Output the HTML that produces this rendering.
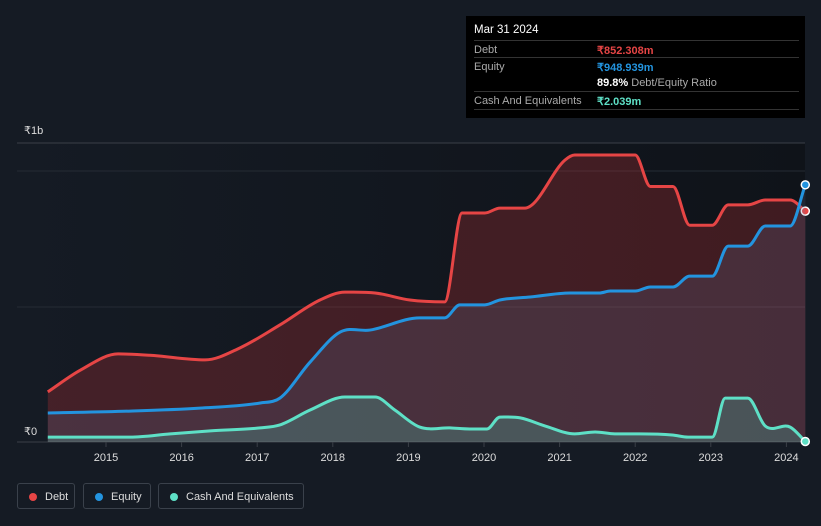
<!DOCTYPE html>
<html><head><meta charset="utf-8"><style>
html,body{margin:0;padding:0;background:#151b24;}
body{width:821px;height:526px;overflow:hidden;font-family:"Liberation Sans",sans-serif;position:relative;}
svg{position:absolute;left:0;top:0;}
.tt{position:absolute;left:466px;top:16px;width:339px;height:102px;background:#000;color:#ddd;font-size:11px;}
.tt .row{position:absolute;left:8px;right:6px;height:17px;border-top:1px solid #333;}
.tt .lab{position:absolute;left:0;top:3px;color:#aaa;}
.tt .val{position:absolute;left:123px;top:3px;font-weight:bold;}
.leg{position:absolute;top:483px;height:26px;border:1px solid #3a414b;border-radius:3px;color:#ddd;font-size:11px;line-height:26px;box-sizing:border-box;}
.leg i{position:absolute;left:11px;top:9px;width:8px;height:8px;border-radius:50%;}
.leg span{position:absolute;left:27px;}
</style></head><body>
<svg id="chart" width="821" height="526"><defs><linearGradient id="bgg" x1="0" x2="1" y1="0" y2="0"><stop offset="0" stop-color="#151b24"/><stop offset="0.5" stop-color="#12171f"/><stop offset="1" stop-color="#0f1319"/></linearGradient></defs></svg>
<div class="tt">
 <div style="position:absolute;left:8px;top:8px;color:#fff;font-size:11.5px">Mar 31 2024</div>
 <div class="row" style="top:24px"><span class="lab">Debt</span><span class="val" style="color:#e64545">₹852.308m</span></div>
 <div class="row" style="top:41px"><span class="lab">Equity</span><span class="val" style="color:#2394df">₹948.939m</span></div>
 <div class="row" style="top:58px;border-top:none"><span class="val" style="color:#fff">89.8% <span style="color:#aaa;font-weight:normal">Debt/Equity Ratio</span></span></div>
 <div class="row" style="top:75px"><span class="lab">Cash And Equivalents</span><span class="val" style="color:#5ee0c6">₹2.039m</span></div>
 <div class="row" style="top:93px;height:0"></div>
</div>
<div class="leg" style="left:17px;width:58px"><i style="background:#e64545"></i><span>Debt</span></div>
<div class="leg" style="left:83px;width:68px"><i style="background:#2394df"></i><span>Equity</span></div>
<div class="leg" style="left:158px;width:146px"><i style="background:#5ee0c6"></i><span>Cash And Equivalents</span></div>
<script>
const debtX=[2014.23,2014.66,2015.16,2015.58,2016.31,2016.77,2017.30,2017.83,2018.16,2018.56,2019.02,2019.48,2019.71,2020.01,2020.21,2020.54,2021.07,2021.20,2022.00,2022.20,2022.50,2022.72,2023.02,2023.23,2023.49,2023.72,2024.05,2024.25];
const debtY=[185,265,325,320,303,347,432,524,553,550,524,517,845,845,863,863,1040,1059,1059,943,943,800,800,875,875,893,893,852];
const eqX=[2014.23,2015.32,2016.24,2017.04,2017.30,2017.70,2018.10,2018.49,2019.15,2019.48,2019.68,2020.01,2020.21,2020.61,2021.14,2021.53,2021.67,2022.00,2022.20,2022.50,2022.72,2023.02,2023.23,2023.49,2023.72,2024.05,2024.25];
const eqY=[107,114,125,144,162,295,406,413,458,458,506,506,524,535,550,550,557,557,572,572,612,612,723,723,797,797,949];
const cashX=[2014.23,2015.32,2015.85,2016.38,2017.04,2017.30,2017.70,2018.16,2018.56,2018.82,2019.15,2019.55,2019.81,2020.04,2020.21,2020.48,2020.81,2021.20,2021.47,2021.73,2022.06,2022.49,2022.70,2023.02,2023.19,2023.49,2023.72,2024.05,2024.25];
const cashY=[18,18,30,41,52,63,118,166,166,118,55,52,48,48,92,89,59,30,37,30,30,26,18,18,162,162,59,55,2];
const yearTicks=[2015,2016,2017,2018,2019,2020,2021,2022,2023,2024];
const NS="http://www.w3.org/2000/svg";
const svg=document.getElementById('chart');
const X=v=>106+(v-2015)*75.6;
const Y=v=>442-v*0.271;
function el(t,a,p){const e=document.createElementNS(NS,t);for(const k in a)e.setAttribute(k,a[k]);(p||svg).appendChild(e);return e;}
function path(xs,ys){
 const px=xs.map(X),py=ys.map(Y),n=px.length,m=[];
 const d=[];for(let i=0;i<n-1;i++)d.push((py[i+1]-py[i])/(px[i+1]-px[i]));
 for(let i=0;i<n;i++){if(i==0)m.push(d[0]);else if(i==n-1)m.push(d[n-2]);else m.push(d[i-1]*d[i]<=0?0:(d[i-1]+d[i])/2);}
 let s="M"+px[0]+","+py[0];
 for(let i=0;i<n-1;i++){const h=(px[i+1]-px[i])/3;s+=" C"+(px[i]+h)+","+(py[i]+m[i]*h)+" "+(px[i+1]-h)+","+(py[i+1]-m[i+1]*h)+" "+px[i+1]+","+py[i+1];}
 return s;}
let r=el('rect',{x:17,y:143,width:788,height:299,fill:'url(#bgg)'});


[[143,'#3a3f47'],[171,'#252b34'],[307,'#252b34'],[442,'#3a3f47']].forEach(g=>{
 const l=el('line',{x1:17,x2:805,y1:g[0],y2:g[0],stroke:g[1],'stroke-width':1});
 
 });
let t=el('text',{x:24,y:134,fill:'#ddd','font-size':11});t.textContent='₹1b';


t=el('text',{x:24,y:435,fill:'#ddd','font-size':11});t.textContent='₹0';


yearTicks.forEach(y=>{
 const l=el('line',{x1:X(y),x2:X(y),y1:442,y2:447,stroke:'#3a3f47'});
 
 
 const tx=el('text',{x:X(y),y:461,fill:'#ddd','font-size':11,'text-anchor':'middle'});tx.textContent=y;
 
 });
const base=442;
function series(xs,ys,color,fill,name){
 const p=path(xs,ys);
 const a=el('path',{d:p+" L"+X(xs[xs.length-1])+","+base+" L"+X(xs[0])+","+base+" Z",fill:fill});
 
 
 const l=el('path',{d:p,fill:'none',stroke:color,'stroke-width':3});
 
 
 const c=el('circle',{cx:X(xs[xs.length-1]),cy:Y(ys[ys.length-1]),r:4,fill:color,stroke:'#fff','stroke-width':1.5});
 
 }
series(debtX,debtY,'#e64545','rgba(200,50,55,0.27)','debt');
series(eqX,eqY,'#2394df','rgba(100,120,160,0.2)','equity');
series(cashX,cashY,'#5ee0c6','rgba(80,200,180,0.25)','cash');
</script>
</body></html>
